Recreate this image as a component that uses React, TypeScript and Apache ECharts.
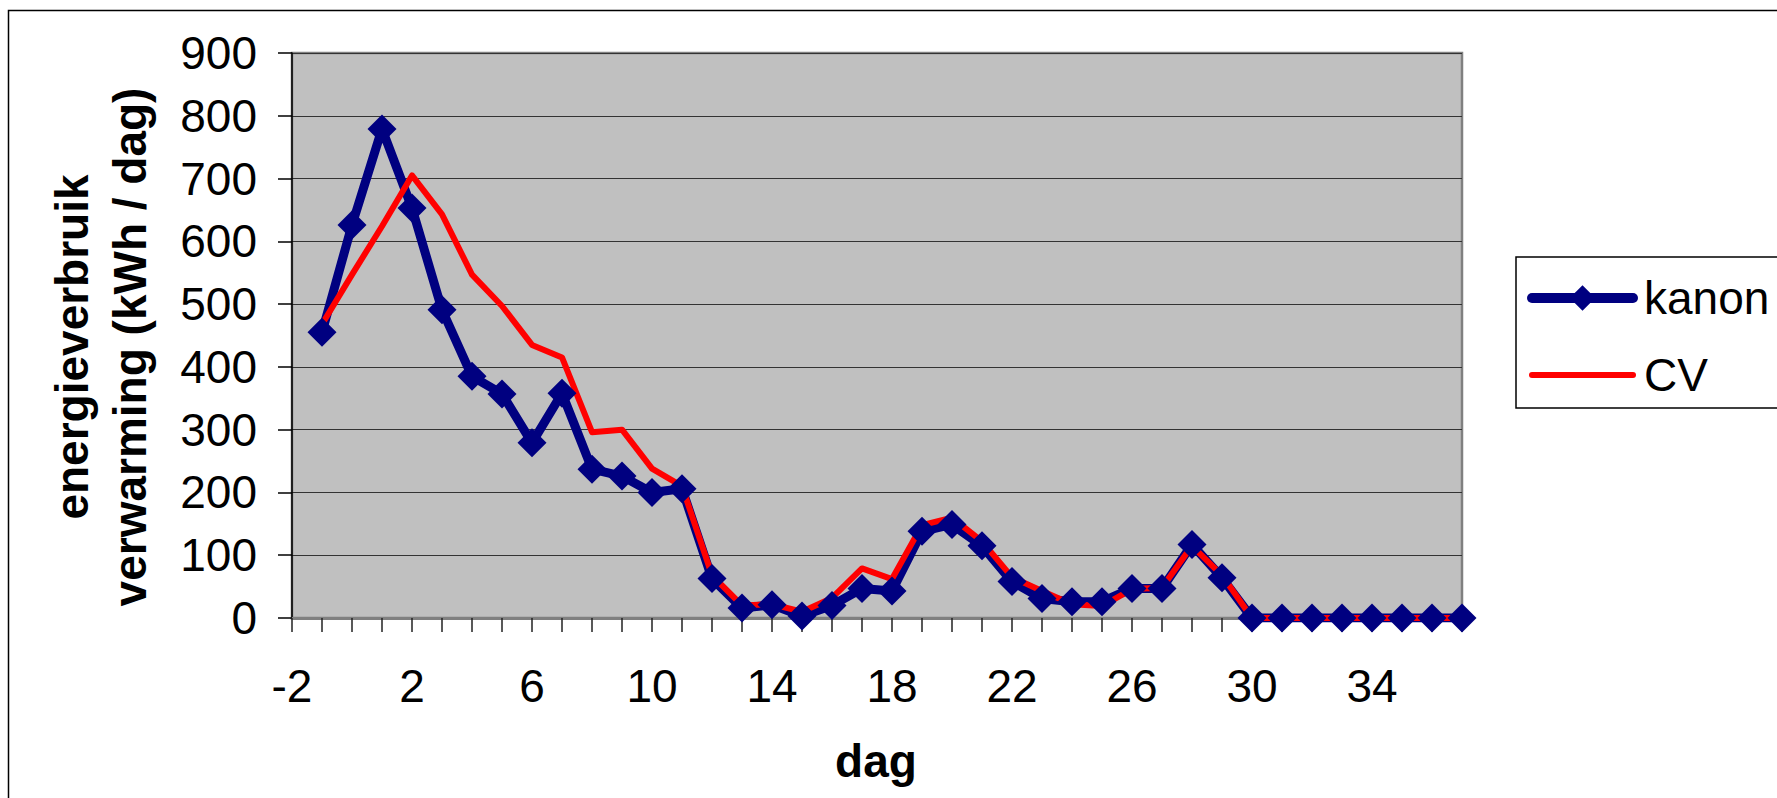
import React, { useEffect, useRef } from "react";
import * as echarts from "echarts";

// ---- data ----
const days = [
  -1, 0, 1, 2, 3, 4, 5, 6, 7, 8, 9, 10, 11, 12, 13, 14, 15, 16, 17, 18, 19,
  20, 21, 22, 23, 24, 25, 26, 27, 28, 29, 30, 31, 32, 33, 34, 35, 36, 37,
];
const kanon = [
  455, 626, 779, 653, 491, 385, 357, 279, 358, 237, 226, 200, 206, 63, 16, 21,
  3, 20, 47, 43, 138, 149, 115, 58, 31, 26, 26, 47, 47, 117, 64, 0, 0, 0, 0, 0,
  0, 0, 0,
];
const cv = [
  468, 547, 624, 705, 643, 547, 497, 435, 415, 296, 300, 238, 210, 68, 20, 22,
  10, 32, 79, 62, 148, 160, 122, 65, 43, 22, 19, 46, 48, 115, 68, 0, 0, 0, 0, 0,
  0, 0, 0,
];
const seriesNames = ["kanon", "CV"];
const xMin = -2;
const xMax = 37;
const xLabelStep = 4;
const yMin = 0;
const yMax = 900;
const yStep = 100;
const xTitle = "dag";
const yTitle = "energieverbruik\nverwarming (kWh / dag)";

const FONT = "'Liberation Sans', Arial, Helvetica, sans-serif";

export default function App() {
  const ref = useRef<HTMLDivElement>(null);

  useEffect(() => {
    if (!ref.current) return;
    const chart = echarts.init(ref.current, null, { renderer: "svg" });
    const kanonData = days.map((d, i) => [d, kanon[i]]);
    const cvData = days.map((d, i) => [d, cv[i]]);

    chart.setOption({
      animation: false,
      backgroundColor: "#ffffff",
      textStyle: { fontFamily: FONT },
      grid: {
        left: 292,
        top: 53,
        width: 1170,
        height: 565,
        show: true,
        backgroundColor: "#c0c0c0",
        borderColor: "#808080",
        borderWidth: 2.5,
      },
      xAxis: {
        type: "value",
        min: xMin,
        max: xMax,
        interval: 1,
        axisLine: {
          show: true,
          onZero: false,
          lineStyle: { color: "#808080", width: 3 },
        },
        axisTick: {
          show: true,
          inside: false,
          length: 14,
          lineStyle: { color: "#222", width: 1.5 },
        },
        axisLabel: {
          formatter: (v: number) =>
            (v - xMin) % xLabelStep === 0 ? String(v) : "",
          fontSize: 46,
          color: "#000",
          fontFamily: FONT,
          margin: 45,
        },
        splitLine: { show: false },
      },
      yAxis: {
        type: "value",
        min: yMin,
        max: yMax,
        interval: yStep,
        axisLine: {
          show: true,
          onZero: false,
          lineStyle: { color: "#000", width: 1.5 },
        },
        axisTick: {
          show: true,
          length: 14,
          lineStyle: { color: "#000", width: 1.5 },
        },
        axisLabel: {
          fontSize: 46,
          color: "#000",
          fontFamily: FONT,
          margin: 35,
        },
        splitLine: { show: true, lineStyle: { color: "#333", width: 1.2 } },
      },
      legend: {
        show: true,
        orient: "vertical",
        left: 1516,
        top: 257,
        data: [
          {
            name: seriesNames[0],
            lineStyle: {
              opacity: 1,
              width: 10,
              color: "#000080",
              cap: "round",
            },
            itemStyle: { color: "#000080" },
          },
          {
            name: seriesNames[1],
            lineStyle: { width: 6, color: "#ff0000", cap: "round" },
            itemStyle: { opacity: 0 },
          },
        ],
        itemWidth: 101,
        itemHeight: 32,
        itemGap: 31,
        padding: [18, 12, 10, 11],
        borderColor: "#000",
        borderWidth: 1.5,
        backgroundColor: "#fff",
        textStyle: {
          fontSize: 46,
          lineHeight: 46,
          color: "#000",
          fontFamily: FONT,
          padding: [0, 0, 0, 6],
        },
      },
      series: [
        {
          name: "kanonLine",
          type: "line",
          data: kanonData,
          symbol: "none",
          lineStyle: { color: "#000080", width: 9, join: "round" },
          z: 2,
        },
        {
          name: seriesNames[1],
          type: "line",
          data: cvData,
          symbol: "none",
          itemStyle: { color: "#ff0000" },
          lineStyle: { color: "#ff0000", width: 6, join: "round" },
          z: 3,
        },
        {
          name: seriesNames[0],
          type: "line",
          data: kanonData,
          symbol: "diamond",
          symbolSize: 29,
          showSymbol: true,
          itemStyle: { color: "#000080" },
          lineStyle: { color: "#000080", width: 10, opacity: 0 },
          z: 4,
        },
      ],
      graphic: [
        {
          type: "rect",
          silent: true,
          z: -10,
          shape: { x: 8.5, y: 10.5, width: 1800, height: 820 },
          style: { fill: "none", stroke: "#000", lineWidth: 1.5 },
        },
        {
          type: "text",
          x: 101,
          y: 347,
          rotation: Math.PI / 2,
          style: {
            text: yTitle,
            fontSize: 46,
            fontWeight: "bold",
            fontFamily: FONT,
            lineHeight: 58,
            align: "center",
            verticalAlign: "middle",
            fill: "#000",
          },
        },
        {
          type: "text",
          x: 876,
          y: 761,
          style: {
            text: xTitle,
            fontSize: 46,
            fontWeight: "bold",
            fontFamily: FONT,
            align: "center",
            verticalAlign: "middle",
            fill: "#000",
          },
        },
      ],
    });

    return () => chart.dispose();
  }, []);

  return (
    <div
      ref={ref}
      style={{
        position: "fixed",
        left: 0,
        top: 0,
        width: 1777,
        height: 798,
        background: "#fff",
      }}
    />
  );
}
